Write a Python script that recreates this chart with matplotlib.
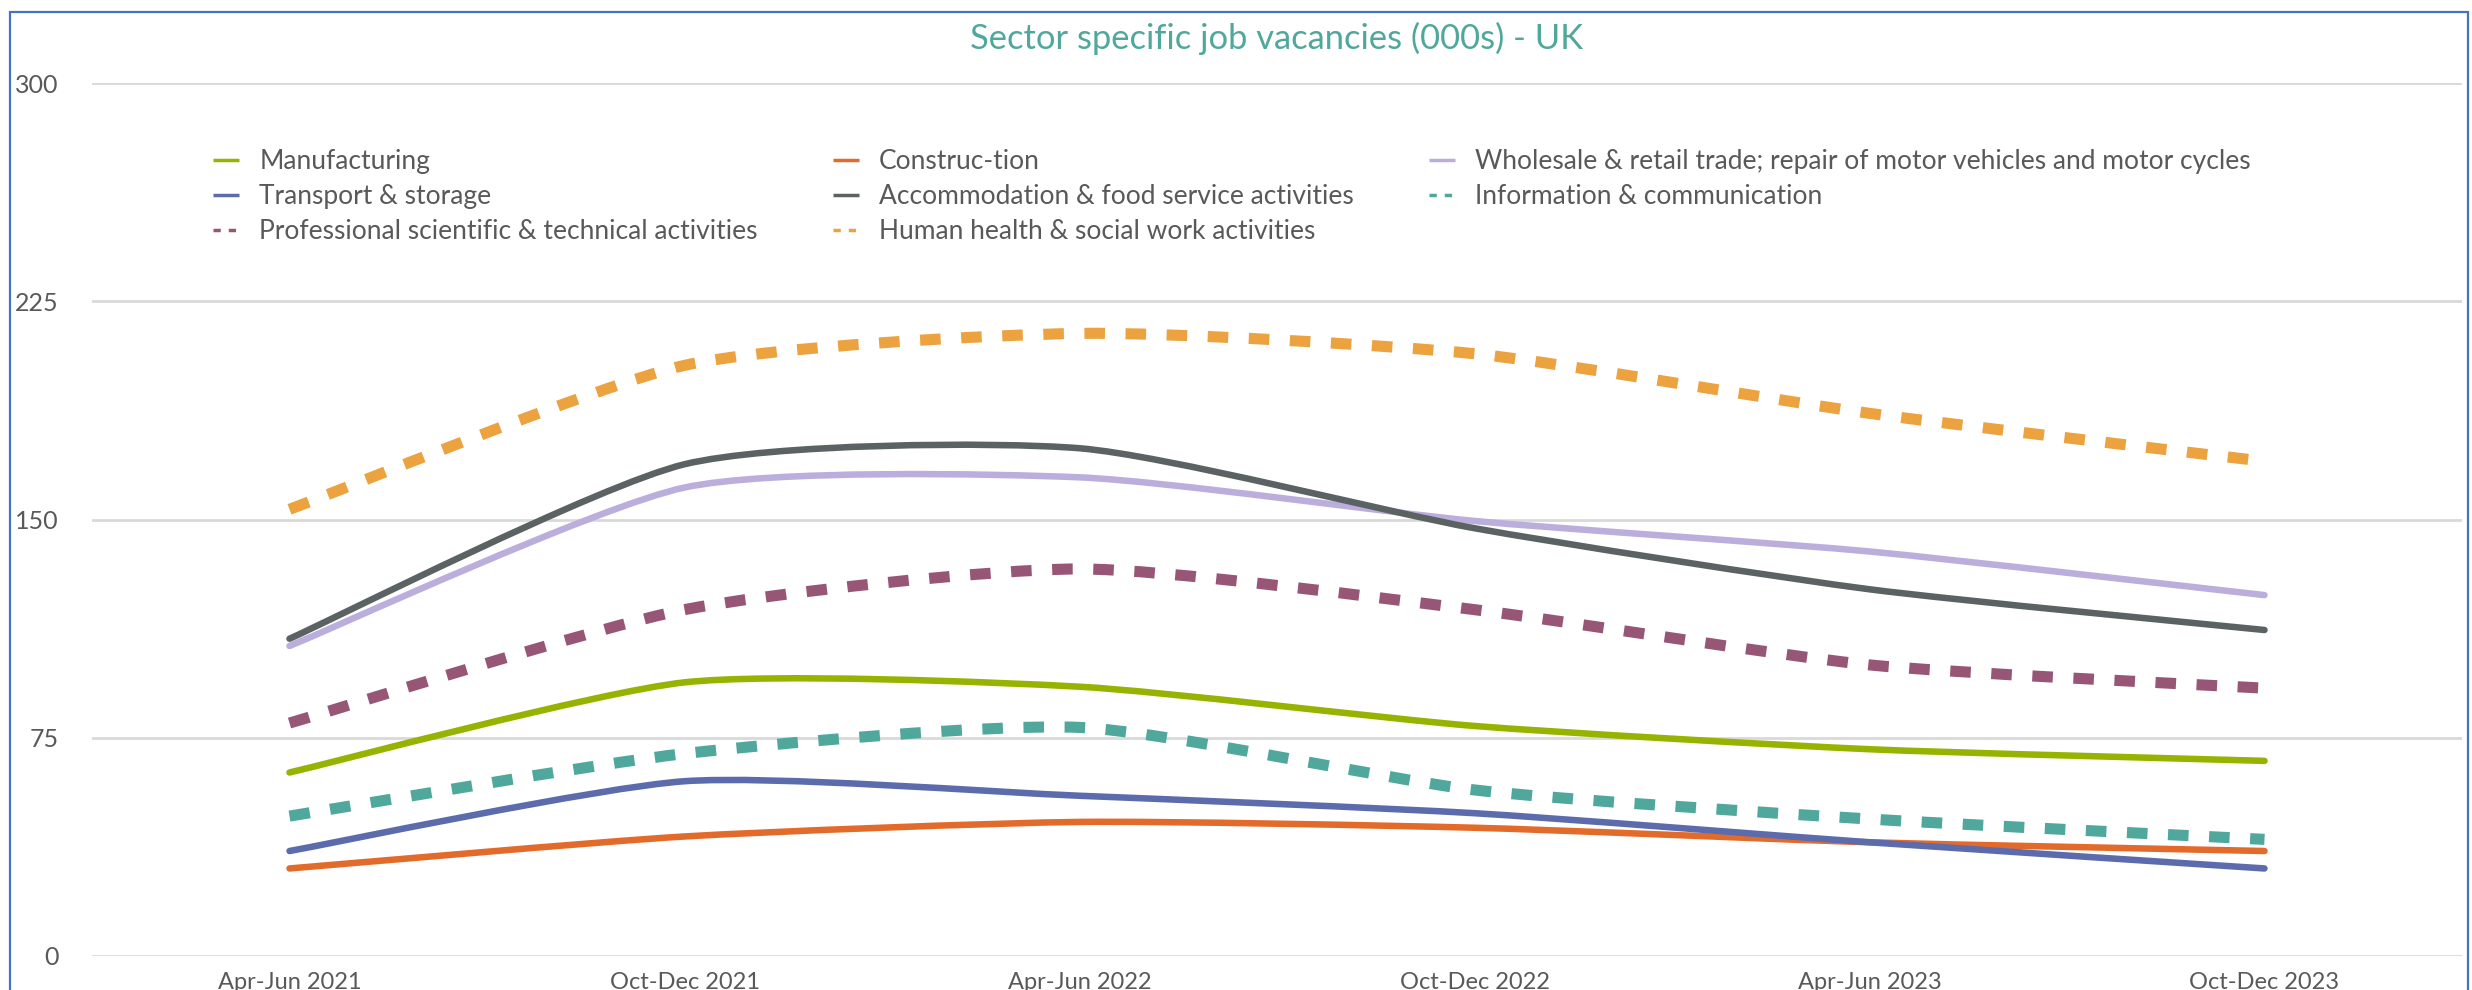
import matplotlib
matplotlib.use("Agg")
import matplotlib.pyplot as plt
from matplotlib.path import Path
from matplotlib.patches import PathPatch, Rectangle
from matplotlib.lines import Line2D

## Sector specific job vacancies (000s) - UK
quarters = ["Apr-Jun 2021", "Oct-Dec 2021", "Apr-Jun 2022",
            "Oct-Dec 2022", "Apr-Jun 2023", "Oct-Dec 2023"]

manufacturing = [63, 94, 92.5, 79, 71, 67]
construction = [30, 41, 46, 44, 39, 36]
wholesale = [106.5, 161, 164.5, 149.5, 139, 124]
transport = [36, 60, 55, 49, 39, 30]
accommodation = [109, 169, 174.5, 147, 126, 112]
information = [48, 69.5, 78.5, 57, 47, 40]
professional = [80, 119, 133, 119, 100, 92]
health = [153.5, 203, 214, 207, 186.5, 170]

y_ticks = [0, 75, 150, 225, 300]

# (label, values, colour, dashed)
series = [
    ("Manufacturing", manufacturing, "#97B300", False),
    ("Construc-tion", construction, "#E26B2B", False),
    ("Wholesale & retail trade; repair of motor vehicles and motor cycles", wholesale, "#BBAEDC", False),
    ("Transport & storage", transport, "#5C6BAB", False),
    ("Accommodation & food service activities", accommodation, "#5A6263", False),
    ("Information & communication", information, "#4FA89B", True),
    ("Professional scientific & technical activities", professional, "#985676", True),
    ("Human health & social work activities", health, "#EBA23F", True),
]

TEXT = "#595959"
FONT = "Lato"
TENSION = 0.65 / 6  # a bit tighter than plain catmull-rom


def smooth_path(xs, ys):
    # smoothed line: bezier segments through every point
    verts = [(xs[0], ys[0])]
    codes = [Path.MOVETO]
    n = len(xs)
    for i in range(n - 1):
        a = i - 1 if i > 0 else i
        d = i + 2 if i + 2 < n else i + 1
        c1 = (xs[i] + (xs[i + 1] - xs[a]) * TENSION, ys[i] + (ys[i + 1] - ys[a]) * TENSION)
        c2 = (xs[i + 1] - (xs[d] - xs[i]) * TENSION, ys[i + 1] - (ys[d] - ys[i]) * TENSION)
        verts += [c1, c2, (xs[i + 1], ys[i + 1])]
        codes += [Path.CURVE4] * 3
    return Path(verts, codes)


W, H = 2472, 990
fig = plt.figure(figsize=(W / 100, H / 100), dpi=100)
ax = fig.add_axes([92 / W, 1 - 955.7 / H, (2462 - 92) / W, (955.7 - 83.3) / H])

xs = list(range(len(quarters)))
for label, vals, col, dashed in series:
    if dashed:
        p = PathPatch(smooth_path(xs, vals), fill=False, edgecolor=col, lw=8.0,
                      linestyle=(0, (1.85, 1.85)), capstyle="butt", zorder=3)
    else:
        p = PathPatch(smooth_path(xs, vals), fill=False, edgecolor=col, lw=4.7,
                      capstyle="round", joinstyle="round", zorder=3)
    ax.add_patch(p)

ax.set_xlim(-0.5, len(quarters) - 0.5)
ax.set_ylim(0, 300)
ax.set_xticks(xs)
ax.set_xticklabels(quarters, fontsize=17, color=TEXT, family=FONT)
ax.set_yticks(y_ticks)
ax.set_yticklabels([str(v) for v in y_ticks], fontsize=18, color=TEXT, family=FONT)
ax.tick_params(axis="both", length=0)
ax.tick_params(axis="y", pad=24)
ax.tick_params(axis="x", pad=11.5)
for s in ax.spines.values():
    s.set_visible(False)
ax.yaxis.grid(True, color="#D9D9D9", lw=2.0, zorder=0)
ax.set_axisbelow(True)

# legend, filled column by column so that it reads row by row
handles = {}
for label, vals, col, dashed in series:
    if dashed:
        handles[label] = Line2D([], [], color=col, lw=2.5, linestyle=(0, (2.1, 2.3)),
                                dash_capstyle="butt")
    else:
        handles[label] = Line2D([], [], color=col, lw=2.5, solid_capstyle="butt")
order = [0, 3, 6, 1, 4, 7, 2, 5]
labels = [series[i][0] for i in order]
leg = fig.legend([handles[l] for l in labels], labels, ncol=3, loc="upper left",
                 bbox_to_anchor=(213 / W, 1 - 149 / H), frameon=False,
                 borderpad=0, borderaxespad=0, handlelength=1.0, handletextpad=0.75,
                 columnspacing=2.85, labelspacing=0.38,
                 prop={"family": FONT, "size": 19})
for t in leg.get_texts():
    t.set_color(TEXT)

fig.text(1277 / W, 1 - 38 / H, "Sector specific job vacancies (000s) - UK",
         ha="center", va="center", fontsize=24.8, color="#4FA89B", family=FONT)

# chart border
fig.patches.append(Rectangle((10 / W, -0.05), (2468 - 10) / W, (978 / H) + 0.05,
                             transform=fig.transFigure, fill=False,
                             edgecolor="#4472C4", lw=1.6, zorder=10))

fig.savefig("out.png", dpi=100)
